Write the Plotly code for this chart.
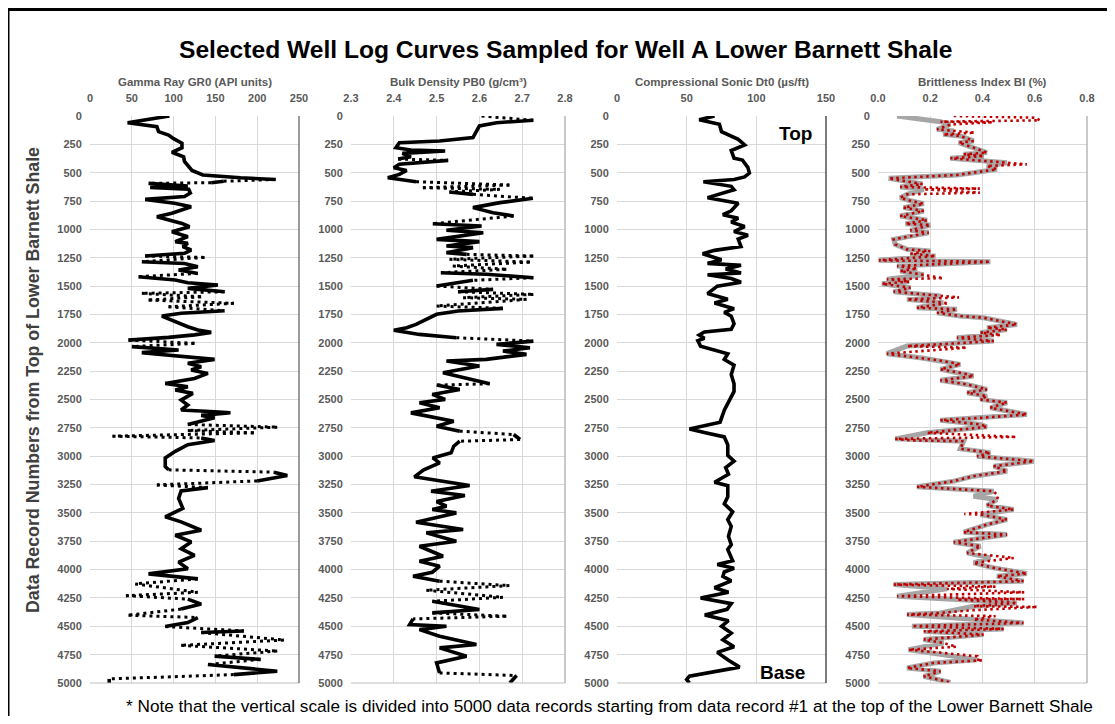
import plotly.graph_objects as go

# ---------------- data ----------------
gr_rec = [0, 59, 94, 138, 168, 200, 240, 280, 320, 360, 400, 440, 480, 520, 545, 560, 575, 588, 594, 605, 617, 630, 645, 680, 710, 735, 770, 800, 858, 888, 947, 976, 1020, 1064, 1108, 1123, 1152, 1182, 1211, 1235, 1247, 1285, 1300, 1329, 1358, 1388, 1417, 1446, 1470, 1490, 1520, 1550, 1564, 1594, 1623, 1652, 1682, 1717, 1740, 1764, 1814, 1858, 1887, 1908, 1930, 1952, 1976, 2005, 2034, 2064, 2087, 2108, 2123, 2146, 2181, 2211, 2240, 2270, 2314, 2358, 2387, 2417, 2446, 2505, 2549, 2593, 2608, 2617, 2640, 2661, 2720, 2744, 2774, 2794, 2824, 2839, 2862, 2898, 2957, 3016, 3090, 3120, 3141, 3170, 3218, 3253, 3277, 3306, 3372, 3460, 3534, 3579, 3653, 3697, 3756, 3816, 3875, 3934, 3993, 4038, 4082, 4126, 4200, 4230, 4260, 4304, 4348, 4402, 4423, 4467, 4502, 4541, 4555, 4621, 4668, 4718, 4763, 4792, 4837, 4881, 4896, 4926, 4964, 5000]
gr_val = [95, 45, 80, 82, 94, 100, 110, 110, 98, 112, 113, 118, 122, 135, 180, 222, 160, 145, 70, 100, 117, 72, 118, 120, 113, 66, 101, 121, 98, 80, 110, 119, 98, 117, 102, 117, 111, 121, 113, 66, 137, 62, 113, 129, 106, 129, 58, 102, 117, 153, 117, 161, 62, 133, 70, 172, 94, 161, 109, 86, 102, 117, 129, 145, 125, 94, 46, 125, 50, 106, 62, 94, 117, 149, 117, 133, 121, 141, 125, 90, 117, 102, 123, 109, 117, 109, 149, 168, 133, 149, 117, 224, 117, 196, 27, 133, 149, 117, 102, 90, 90, 94, 220, 236, 200, 80, 141, 109, 106, 111, 90, 109, 133, 102, 121, 109, 125, 106, 117, 70, 129, 54, 129, 43, 117, 133, 109, 46, 129, 117, 90, 184, 133, 232, 109, 224, 149, 204, 141, 200, 224, 172, 23, 23]

pb_rec = [0, 38, 59, 88, 191, 220, 235, 280, 300, 309, 330, 360, 380, 391, 426, 456, 480, 515, 544, 579, 609, 632, 647, 670, 691, 726, 764, 808, 853, 882, 950, 970, 1008, 1029, 1088, 1108, 1147, 1161, 1205, 1220, 1235, 1264, 1288, 1323, 1352, 1382, 1396, 1426, 1449, 1499, 1529, 1550, 1573, 1602, 1617, 1676, 1696, 1720, 1749, 1793, 1838, 1867, 1890, 1926, 1955, 1985, 2014, 2043, 2073, 2102, 2146, 2161, 2205, 2264, 2293, 2361, 2373, 2411, 2455, 2499, 2528, 2573, 2618, 2662, 2691, 2735, 2779, 2809, 2853, 2868, 2912, 2970, 3015, 3059, 3120, 3182, 3220, 3259, 3309, 3347, 3400, 3441, 3470, 3500, 3582, 3647, 3676, 3750, 3794, 3882, 3926, 3970, 4023, 4058, 4102, 4141, 4182, 4244, 4279, 4352, 4382, 4411, 4435, 4485, 4499, 4529, 4588, 4661, 4690, 4764, 4823, 4911, 4934, 5000]
pb_val = [2.605, 2.726, 2.64, 2.60, 2.585, 2.507, 2.413, 2.405, 2.44, 2.52, 2.42, 2.44, 2.41, 2.527, 2.413, 2.40, 2.43, 2.413, 2.386, 2.452, 2.67, 2.468, 2.648, 2.53, 2.585, 2.725, 2.648, 2.585, 2.632, 2.68, 2.491, 2.605, 2.523, 2.609, 2.50, 2.60, 2.523, 2.585, 2.523, 2.57, 2.726, 2.53, 2.718, 2.538, 2.663, 2.51, 2.616, 2.726, 2.585, 2.50, 2.632, 2.55, 2.726, 2.562, 2.71, 2.50, 2.655, 2.55, 2.50, 2.476, 2.452, 2.43, 2.40, 2.46, 2.546, 2.726, 2.64, 2.718, 2.655, 2.71, 2.616, 2.523, 2.60, 2.515, 2.546, 2.624, 2.50, 2.554, 2.49, 2.52, 2.46, 2.507, 2.44, 2.507, 2.54, 2.50, 2.554, 2.68, 2.695, 2.554, 2.54, 2.534, 2.491, 2.507, 2.47, 2.448, 2.507, 2.577, 2.487, 2.566, 2.50, 2.523, 2.49, 2.546, 2.452, 2.562, 2.476, 2.546, 2.46, 2.515, 2.46, 2.507, 2.49, 2.445, 2.507, 2.67, 2.476, 2.655, 2.49, 2.60, 2.49, 2.663, 2.445, 2.437, 2.523, 2.46, 2.507, 2.593, 2.507, 2.57, 2.50, 2.507, 2.687, 2.671]

dt_rec = [0, 33, 73, 139, 206, 255, 305, 372, 388, 455, 504, 537, 560, 580, 620, 650, 720, 770, 836, 870, 902, 936, 975, 1019, 1052, 1085, 1151, 1185, 1215, 1267, 1300, 1317, 1350, 1384, 1400, 1433, 1466, 1500, 1566, 1616, 1649, 1699, 1732, 1765, 1832, 1881, 1905, 1931, 1960, 1981, 2031, 2064, 2097, 2147, 2197, 2280, 2362, 2429, 2495, 2595, 2700, 2760, 2790, 2830, 2900, 2993, 3043, 3100, 3160, 3230, 3260, 3358, 3420, 3490, 3560, 3620, 3706, 3780, 3822, 3922, 3955, 3988, 4021, 4060, 4100, 4160, 4200, 4250, 4300, 4350, 4400, 4450, 4500, 4560, 4620, 4680, 4730, 4800, 4860, 4900, 4940, 4970, 5000]
dt_val = [70, 59, 73.5, 75, 87, 91.6, 82, 84, 90, 94, 95, 91.6, 84, 62, 82, 84, 65, 87, 82, 76, 87, 82, 91.6, 84, 94, 87, 89, 70, 61.5, 75, 65, 89, 78, 89, 65, 82, 89, 72, 65, 79.5, 70, 84, 77, 82, 84, 82, 62.7, 59, 62.7, 58, 60, 70, 79.5, 77, 84, 82, 84, 84, 81, 77, 74, 52, 62.7, 77, 79.5, 79.5, 84, 78, 80, 70, 79.5, 79.5, 77, 83, 79.5, 82, 80, 82, 79.5, 83, 72, 84, 77, 76, 82, 70, 80, 60, 82, 79, 63, 80, 75, 82, 76, 84, 72, 80, 88, 70, 52, 50, 52]

bi_gray_rec = [0, 50, 75, 118, 132, 162, 176, 220, 235, 279, 323, 338, 353, 373, 391, 412, 441, 470, 500, 520, 550, 573, 600, 626, 647, 691, 720, 745, 773, 808, 838, 882, 920, 950, 961, 1008, 1029, 1088, 1132, 1176, 1190, 1214, 1235, 1273, 1285, 1323, 1345, 1367, 1400, 1440, 1460, 1479, 1514, 1549, 1588, 1617, 1646, 1690, 1705, 1735, 1764, 1779, 1838, 1867, 1882, 1911, 1930, 1955, 1985, 2029, 2096, 2132, 2161, 2190, 2234, 2264, 2293, 2331, 2367, 2411, 2440, 2470, 2499, 2528, 2573, 2632, 2662, 2682, 2720, 2741, 2794, 2847, 2868, 2935, 2970, 3000, 3044, 3088, 3132, 3176, 3220, 3270, 3309, 3353, 3382, 3435, 3470, 3514, 3559, 3603, 3670, 3691, 3758, 3794, 3853, 3897, 3941, 3985, 4035, 4058, 4102, 4132, 4170, 4235, 4264, 4294, 4323, 4382, 4397, 4440, 4470, 4499, 4523, 4544, 4573, 4617, 4647, 4706, 4764, 4794, 4823, 4867, 4897, 4941, 4994]
bi_gray_val = [0.073, 0.239, 0.277, 0.226, 0.29, 0.25, 0.315, 0.366, 0.309, 0.366, 0.417, 0.328, 0.405, 0.277, 0.392, 0.494, 0.417, 0.455, 0.366, 0.302, 0.041, 0.098, 0.17, 0.085, 0.175, 0.111, 0.085, 0.12, 0.175, 0.098, 0.175, 0.085, 0.188, 0.105, 0.20, 0.124, 0.194, 0.06, 0.066, 0.111, 0.20, 0.124, 0.22, 0.003, 0.43, 0.073, 0.15, 0.085, 0.175, 0.034, 0.12, 0.015, 0.124, 0.06, 0.239, 0.111, 0.25, 0.149, 0.302, 0.226, 0.315, 0.404, 0.532, 0.417, 0.494, 0.392, 0.443, 0.302, 0.443, 0.111, 0.034, 0.162, 0.251, 0.315, 0.239, 0.315, 0.366, 0.239, 0.341, 0.417, 0.341, 0.417, 0.392, 0.494, 0.43, 0.57, 0.392, 0.239, 0.392, 0.417, 0.188, 0.066, 0.328, 0.315, 0.43, 0.379, 0.596, 0.443, 0.494, 0.366, 0.29, 0.149, 0.443, 0.366, 0.455, 0.417, 0.519, 0.392, 0.494, 0.417, 0.328, 0.494, 0.29, 0.392, 0.341, 0.43, 0.366, 0.443, 0.57, 0.455, 0.557, 0.06, 0.264, 0.073, 0.302, 0.532, 0.366, 0.239, 0.111, 0.366, 0.557, 0.13, 0.481, 0.175, 0.404, 0.175, 0.251, 0.117, 0.29, 0.379, 0.213, 0.111, 0.239, 0.175, 0.277]

# red BI series: where it departs from the gray series (elsewhere it coincides)
bi_red_dev_rec = [0, 15, 38, 55, 147, 426, 640, 676, 1279, 1430, 1600, 1650, 1930, 2043, 2530, 2830, 2860, 3353, 3510, 3897, 4150, 4200, 4260, 4329, 4360, 4410, 4680, 4764, 4800]
bi_red_dev_val = [0.29, 0.60, 0.62, 0.44, 0.37, 0.57, 0.39, 0.39, 0.37, 0.25, 0.31, 0.27, 0.47, 0.34, 0.49, 0.53, 0.13, 0.46, 0.33, 0.52, 0.45, 0.56, 0.56, 0.61, 0.35, 0.45, 0.30, 0.38, 0.40]

panel_titles = ["Gamma Ray GR0 (API units)", "Bulk Density PB0 (g/cm³)",
                "Compressional Sonic Dt0 (µs/ft)", "Brittleness Index BI (%)"]
x_ranges = [[0, 250], [2.3, 2.8], [0, 150], [0, 0.8]]
x_dticks = [50, 0.1, 50, 0.2]
x_tickformats = ["d", ".1f", "d", ".1f"]
y_range = [5000, 0]
y_dtick = 250

title_text = "Selected Well Log Curves Sampled for Well A Lower Barnett Shale"
y_title_text = "Data Record Numbers from Top of Lower Barnett Shale"
note_text = ("* Note that the vertical scale is divided into 5000 data records starting "
             "from data record #1 at the top of the Lower Barnett Shale")

# ---------------- layout geometry ----------------
# The page body has an 8px margin, so the figure is sized to fit the window.
OFF = 8
W, H = 1115 - 2 * OFF, 724 - 2 * OFF


def px(x):
    return (x - OFF) / W


def py(y):
    return 1 - (y - OFF) / H


px_domains = [(90, 299), (351, 565), (617, 826), (878, 1087)]
top_px, bot_px = 116, 683
ydom = [py(bot_px), py(top_px)]
right_line_colors = ["#595959", "#a6a6a6", "#262626", "#a6a6a6"]

ARIAL = "Liberation Sans, Arial, sans-serif"
tick_font = dict(family=ARIAL, size=11, color="#595959", weight="bold")

fig = go.Figure()


def axis_names(i):
    return ("x" if i == 1 else f"x{i}"), ("y" if i == 1 else f"y{i}")


def add_log_curve(vals, recs, i, color, width):
    """Solid body; long near-horizontal excursions drawn dotted, as in the source."""
    xr = x_ranges[i - 1]
    sx = (px_domains[i - 1][1] - px_domains[i - 1][0]) / (xr[1] - xr[0])
    sy = (bot_px - top_px) / 5000.0
    sol_x, sol_y, dot_x, dot_y = [], [], [], []
    prev_dotted = None
    for j in range(len(vals) - 1):
        dxp = abs(vals[j + 1] - vals[j]) * sx
        dyp = abs(recs[j + 1] - recs[j]) * sy
        dotted = dxp >= 50 and dxp > 4 * dyp
        if dotted:
            dot_x += [vals[j], vals[j + 1], None]
            dot_y += [recs[j], recs[j + 1], None]
        else:
            if prev_dotted is not False:
                sol_x.append(None)
                sol_y.append(None)
                sol_x.append(vals[j])
                sol_y.append(recs[j])
            sol_x.append(vals[j + 1])
            sol_y.append(recs[j + 1])
        prev_dotted = dotted
    xa, ya = axis_names(i)
    fig.add_trace(go.Scatter(x=sol_x, y=sol_y, mode="lines", xaxis=xa, yaxis=ya,
                             line=dict(color=color, width=width),
                             showlegend=False, hoverinfo="skip"))
    fig.add_trace(go.Scatter(x=dot_x, y=dot_y, mode="lines", xaxis=xa, yaxis=ya,
                             line=dict(color=color, width=width - 0.6, dash="3px,4px"),
                             showlegend=False, hoverinfo="skip"))


add_log_curve(gr_val, gr_rec, 1, "black", 3.6)
add_log_curve(pb_val, pb_rec, 2, "black", 3.6)
add_log_curve(dt_val, dt_rec, 3, "black", 3.6)

# BI: gray series (thick) and red series (dotted) on top
fig.add_trace(go.Scatter(x=bi_gray_val, y=bi_gray_rec, mode="lines", xaxis="x4", yaxis="y4",
                         line=dict(color="#a6a6a6", width=5),
                         showlegend=False, hoverinfo="skip"))
dev = dict(zip(bi_red_dev_rec, bi_red_dev_val))
red_pts = sorted([(r, v) for r, v in zip(bi_gray_rec, bi_gray_val) if r not in dev]
                 + list(dev.items()))
fig.add_trace(go.Scatter(x=[p[1] for p in red_pts], y=[p[0] for p in red_pts],
                         mode="lines", xaxis="x4", yaxis="y4",
                         line=dict(color="#c00000", width=2.6, dash="2.5px,3.5px"),
                         showlegend=False, hoverinfo="skip"))

layout = dict(width=W, height=H, margin=dict(l=0, r=0, t=0, b=0),
              paper_bgcolor="white", plot_bgcolor="white", showlegend=False)
shapes = []
annotations = []
for k in range(4):
    i = k + 1
    xs = "" if i == 1 else str(i)
    x0, x1 = px_domains[k]
    layout[f"xaxis{xs}"] = dict(
        domain=[px(x0), px(x1)], range=x_ranges[k], side="top", anchor=f"y{xs}",
        dtick=x_dticks[k], tick0=x_ranges[k][0], tickformat=x_tickformats[k],
        showgrid=True, gridcolor="#d9d9d9", gridwidth=1, zeroline=False,
        showline=False, ticks="outside", ticklen=9, tickcolor="rgba(0,0,0,0)",
        tickfont=tick_font, fixedrange=True, automargin=False)
    layout[f"yaxis{xs}"] = dict(
        domain=ydom, range=y_range, anchor=f"x{xs}", dtick=y_dtick, tick0=0,
        showgrid=True, gridcolor="#d9d9d9", gridwidth=1, zeroline=False,
        showline=False, ticks="outside", ticklen=5, tickcolor="rgba(0,0,0,0)",
        tickfont=tick_font, fixedrange=True, tickformat="d", automargin=False)
    xr = f"x{xs} domain"
    yr = f"y{xs} domain"
    shapes.append(dict(type="line", xref=xr, yref=yr, x0=0, x1=1, y0=0, y1=0,
                       line=dict(color="#bfbfbf", width=1)))
    shapes.append(dict(type="line", xref=xr, yref=yr, x0=1, x1=1, y0=0, y1=1,
                       line=dict(color=right_line_colors[k], width=1.2)))
    annotations.append(dict(text=panel_titles[k], xref="paper", yref="paper",
                            x=px((x0 + x1) / 2), y=py(82), showarrow=False,
                            xanchor="center", yanchor="middle",
                            font=dict(family=ARIAL, size=11.5, color="#595959",
                                      weight="bold")))

# outer frame (left and top edges visible)
shapes.append(dict(type="line", xref="paper", yref="paper", x0=px(8), x1=px(8),
                   y0=-0.05, y1=py(9), line=dict(color="black", width=3)))
shapes.append(dict(type="line", xref="paper", yref="paper", x0=px(6.5), x1=1.05,
                   y0=py(9.5), y1=py(9.5), line=dict(color="black", width=3)))

annotations.append(dict(text=f"<b>{title_text}</b>", xref="paper", yref="paper",
                        x=px(566), y=py(50), showarrow=False,
                        xanchor="center", yanchor="middle",
                        font=dict(family=ARIAL, size=24.6, color="black")))
annotations.append(dict(text=f"<b>{y_title_text}</b>", xref="paper", yref="paper",
                        x=px(33), y=py(380), showarrow=False, textangle=-90,
                        xanchor="center", yanchor="middle",
                        font=dict(family=ARIAL, size=17.8, color="#404040")))
annotations.append(dict(text=note_text, xref="paper", yref="paper",
                        x=px(609), y=py(706), showarrow=False,
                        xanchor="center", yanchor="middle",
                        font=dict(family=ARIAL, size=17.2, color="black")))
annotations.append(dict(text="<b>Top</b>", xref="paper", yref="paper",
                        x=px(795), y=py(133), showarrow=False,
                        xanchor="center", yanchor="middle",
                        font=dict(family=ARIAL, size=19, color="black")))
annotations.append(dict(text="<b>Base</b>", xref="paper", yref="paper",
                        x=px(782), y=py(672), showarrow=False,
                        xanchor="center", yanchor="middle",
                        font=dict(family=ARIAL, size=19, color="black")))

layout["shapes"] = shapes
layout["annotations"] = annotations
fig.update_layout(**layout)
fig.write_html("out.html")
